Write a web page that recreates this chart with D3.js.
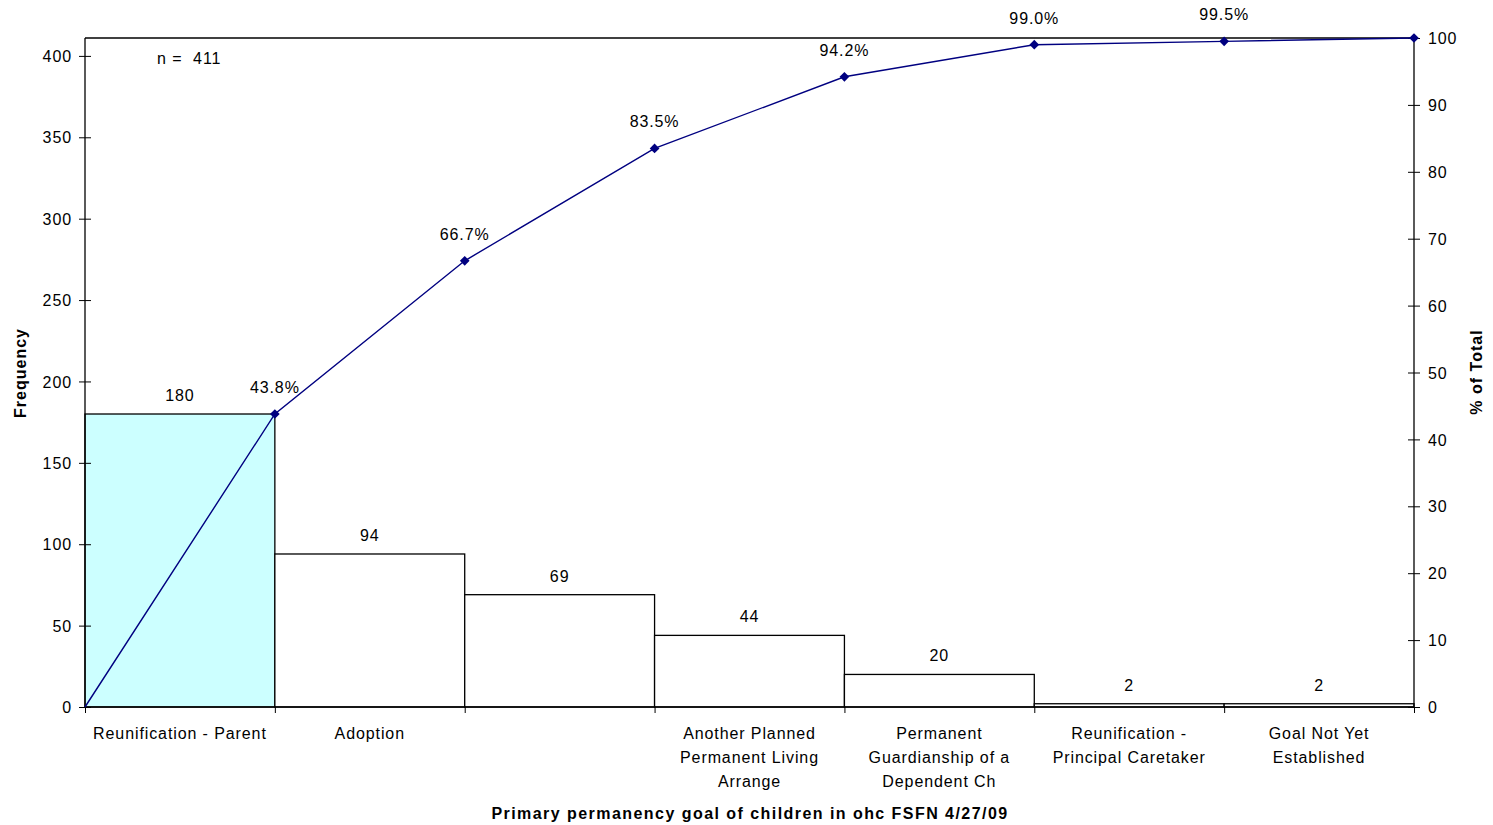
<!DOCTYPE html>
<html>
<head>
<meta charset="utf-8">
<script src="https://cdn.jsdelivr.net/npm/d3@7"></script>
<style>
  html, body { margin: 0; padding: 0; background: #fff; }
  text { font-family: "Liberation Sans", Arial, sans-serif; fill: #000; letter-spacing: 0.9px; }
</style>
</head>
<body>
<svg id="chart" width="1493" height="825"></svg>
<script>
// ---- data ----
const categories = [
  "Reunification - Parent",
  "Adoption",
  "",
  "Another Planned\nPermanent Living\nArrange",
  "Permanent\nGuardianship of a\nDependent Ch",
  "Reunification -\nPrincipal Caretaker",
  "Goal Not Yet\nEstablished"
];
const frequencies = [180, 94, 69, 44, 20, 2, 2];
const cumulativePct = [0, 43.8, 66.7, 83.5, 94.2, 99.0, 99.5, 100];
const pctLabels = ["", "43.8%", "66.7%", "83.5%", "94.2%", "99.0%", "99.5%", ""];
const leftTicks = [0, 50, 100, 150, 200, 250, 300, 350, 400];
const rightTicks = [0, 10, 20, 30, 40, 50, 60, 70, 80, 90, 100];
const total = 411;

// ---- layout ----
const svg = d3.select("#chart");
const L = 85, R = 1414, T = 38, B = 707;

const x = d3.scaleBand().domain(d3.range(categories.length)).range([L, R]).padding(0);
const xEdge = d3.scaleLinear().domain([0, categories.length]).range([L, R]);
const yL = d3.scaleLinear().domain([0, total]).range([B, T]);
const yR = d3.scaleLinear().domain([0, 100]).range([B, T]);

// bars
svg.append("g").selectAll("rect").data(frequencies).join("rect")
  .attr("x", (d, i) => x(i))
  .attr("y", d => yL(d))
  .attr("width", x.bandwidth())
  .attr("height", d => B - yL(d))
  .attr("fill", (d, i) => i === 0 ? "#CCFFFF" : "#FFFFFF")
  .attr("stroke", "#000")
  .attr("stroke-width", 1.3);

// bar labels
svg.append("g").selectAll("text").data(frequencies).join("text")
  .attr("x", (d, i) => x(i) + x.bandwidth() / 2)
  .attr("y", d => yL(d) - 13)
  .attr("text-anchor", "middle")
  .attr("font-size", 16)
  .text(d => d);

// frame: top line
svg.append("line").attr("x1", L).attr("x2", R).attr("y1", T).attr("y2", T)
  .attr("stroke", "#000").attr("stroke-width", 1.3);

// left axis
const gL = svg.append("g").attr("transform", `translate(${L},0)`)
  .call(d3.axisLeft(yL).tickValues(leftTicks).tickSize(6).tickPadding(7));
gL.selectAll(".tick line").attr("x1", 6).attr("x2", -6);
gL.select(".domain").attr("d", `M0,${T}V${B}`).attr("stroke-width", 1.3);
gL.selectAll(".tick text").attr("font-size", 16).attr("font-family", "Liberation Sans, Arial, sans-serif").attr("dy", "0.35em");

// right axis
const gR = svg.append("g").attr("transform", `translate(${R},0)`)
  .call(d3.axisRight(yR).tickValues(rightTicks).tickSize(6).tickPadding(8));
gR.selectAll(".tick line").attr("x1", -6).attr("x2", 6);
gR.select(".domain").attr("d", `M0,${T}V${B}`).attr("stroke-width", 1.3);
gR.selectAll(".tick text").attr("font-size", 16).attr("font-family", "Liberation Sans, Arial, sans-serif").attr("dy", "0.35em");

// bottom axis
const gB = svg.append("g").attr("transform", `translate(0,${B})`)
  .call(d3.axisBottom(xEdge).tickValues(d3.range(categories.length + 1)).tickSize(6).tickFormat(""));
gB.select(".domain").attr("d", `M${L},0H${R}`).attr("stroke-width", 1.6);

// category labels
const catG = svg.append("g");
categories.forEach((c, i) => {
  const cx = x(i) + x.bandwidth() / 2;
  const t = catG.append("text")
    .attr("x", cx)
    .attr("y", 739)
    .attr("text-anchor", "middle")
    .attr("font-size", 16);
  c.split("\n").forEach((line, j) => {
    t.append("tspan").attr("x", cx).attr("dy", j === 0 ? 0 : 24).text(line);
  });
});

// cumulative line
const line = d3.line().x((d, i) => xEdge(i)).y(d => yR(d));
svg.append("path").datum(cumulativePct)
  .attr("d", line).attr("fill", "none").attr("stroke", "#000080").attr("stroke-width", 1.4);

// markers
svg.append("g").selectAll("path").data(cumulativePct.slice(1)).join("path")
  .attr("d", d3.symbol().type(d3.symbolDiamond2).size(60))
  .attr("transform", (d, i) => `translate(${xEdge(i + 1)},${yR(d)})`)
  .attr("fill", "#000080");

// pct labels
svg.append("g").selectAll("text").data(pctLabels).join("text")
  .attr("x", (d, i) => xEdge(i))
  .attr("y", (d, i) => yR(cumulativePct[i]) - 21)
  .attr("text-anchor", "middle")
  .attr("font-size", 16)
  .text(d => d);

// n label
svg.append("text").attr("x", 157).attr("y", 64).attr("font-size", 16)
  .attr("xml:space", "preserve").style("white-space", "pre").text("n =  411");

// axis titles
svg.append("text").attr("transform", "translate(26,373) rotate(-90)")
  .attr("text-anchor", "middle").attr("font-size", 16).attr("font-weight", "bold")
  .style("letter-spacing", "1px").text("Frequency");
svg.append("text").attr("transform", "translate(1482,372) rotate(-90)")
  .attr("text-anchor", "middle").attr("font-size", 16).attr("font-weight", "bold")
  .style("letter-spacing", "1px").text("% of Total");
svg.append("text").attr("x", 750).attr("y", 819)
  .attr("text-anchor", "middle").attr("font-size", 16).attr("font-weight", "bold")
  .style("letter-spacing", "1.45px")
  .text("Primary permanency goal of children in ohc FSFN 4/27/09");
</script>
</body>
</html>
